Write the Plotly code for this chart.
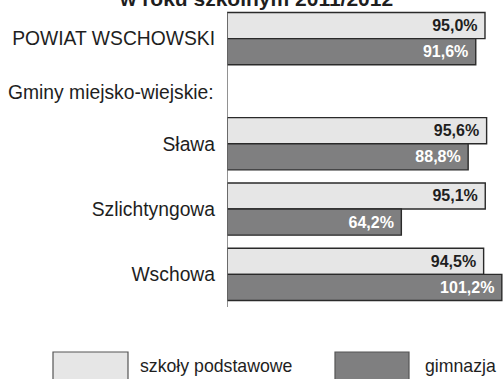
import plotly.graph_objects as go

# --- data ---
powiat = ["POWIAT WSCHOWSKI"]
gminy = ["Sława", "Szlichtyngowa", "Wschowa"]
podstawowe_powiat = [95.0]
gimnazja_powiat = [91.6]
podstawowe_gminy = [95.6, 95.1, 94.5]
gimnazja_gminy = [88.8, 64.2, 101.2]
series_names = ["szkoły podstawowe", "gimnazja"]
section_label = "Gminy miejsko-wiejskie:"
title_text = "w roku szkolnym 2011/2012"

# --- style ---
W, H = 504, 379
ML, MR, MT, MB = 227, 0, 6, 72
PH = H - MT - MB            # plot height in px
PW = W - ML - MR            # plot width in px
BAND = 65.3                 # px per category row
FONT = "Liberation Sans, Arial, sans-serif"
LIGHT = "#e6e6e6"
DARK = "#7f7f80"
EDGE = "#2a2a2a"
TXT = "#1e1e1e"
LABEL_SIZE = 19.3
VALUE_SIZE = 16


def py(px):
    """Pixel row (from top) -> paper y."""
    return (MT + PH - px) / PH


def px_x(px):
    """Pixel column -> paper x."""
    return (px - ML) / PW


top_dom = [1 - BAND / PH, 1]
bot_dom = [0, 3 * BAND / PH]

fig = go.Figure()


def add_pair(cats, v1, v2, xa, ya):
    for vals, name, fill, tcol in [
        (v1, series_names[0], LIGHT, TXT),
        (v2, series_names[1], DARK, "white"),
    ]:
        vfont = dict(family=FONT, size=VALUE_SIZE, color=tcol, weight="bold")
        fig.add_trace(go.Bar(
            y=cats, x=vals, name=name, orientation="h",
            xaxis=xa, yaxis=ya,
            marker=dict(color=fill, line=dict(color=EDGE, width=1.4)),
            texttemplate="<b>%{x:.1f}%</b>\u00a0",
            textposition="inside", insidetextanchor="end",
            constraintext="none",
            textfont=vfont, insidetextfont=vfont,
            cliponaxis=False, showlegend=False,
        ))


add_pair(powiat, podstawowe_powiat, gimnazja_powiat, "x", "y")
add_pair(gminy, podstawowe_gminy, gimnazja_gminy, "x2", "y2")

xcommon = dict(range=[0, 102], visible=False, showgrid=False, zeroline=False)
ycommon = dict(autorange="reversed", showline=False, ticks="", showgrid=False,
               zeroline=False, ticklabelstandoff=11,
               tickfont=dict(family=FONT, size=LABEL_SIZE, color=TXT))

fig.update_layout(
    width=W, height=H,
    margin=dict(l=ML, r=MR, t=MT, b=MB, pad=0),
    paper_bgcolor="white", plot_bgcolor="white",
    barmode="group", bargap=0.2, bargroupgap=0,
    separators=", ",
    uniformtext=dict(minsize=VALUE_SIZE, mode="show"),
    xaxis=dict(domain=[0, 1], anchor="y", **xcommon),
    xaxis2=dict(domain=[0, 1], anchor="y2", matches="x", **xcommon),
    yaxis=dict(domain=top_dom, anchor="x", **ycommon),
    yaxis2=dict(domain=bot_dom, anchor="x2", **ycommon),
    showlegend=False,
)

# vertical category axis line spanning both panels
fig.add_shape(type="line", xref="x", yref="paper", x0=0, x1=0,
              y0=0, y1=1 - 0.1 * BAND / PH,
              line=dict(color="#6e6e6e", width=1.5), layer="above")

# section heading for the municipalities
fig.add_annotation(text=section_label, xref="paper", yref="paper",
                   x=0, y=py(92), xanchor="right", yanchor="middle",
                   xshift=-11, showarrow=False,
                   font=dict(family=FONT, size=LABEL_SIZE, color=TXT))

# title (last line, running off the top edge)
fig.add_annotation(text="<b>" + title_text + "</b>", xref="paper", yref="paper",
                   x=px_x(255.5), y=py(-1.5), xanchor="center", yanchor="middle",
                   showarrow=False,
                   font=dict(family=FONT, size=21, color=TXT))

# legend drawn as boxes with captions
legend_items = [
    (series_names[0], LIGHT, 53, 128, 138),
    (series_names[1], DARK, 335, 409, 423),
]
for name, fill, x0, x1, tx in legend_items:
    fig.add_shape(type="rect", xref="paper", yref="paper",
                  x0=px_x(x0), x1=px_x(x1), y0=py(352), y1=py(390),
                  fillcolor=fill, line=dict(color="#555555", width=1.2))
    fig.add_annotation(text=name, xref="paper", yref="paper",
                       x=px_x(tx), y=py(366), xanchor="left", yanchor="middle",
                       showarrow=False,
                       font=dict(family=FONT, size=17.7, color=TXT))

fig.write_html("out.html")
